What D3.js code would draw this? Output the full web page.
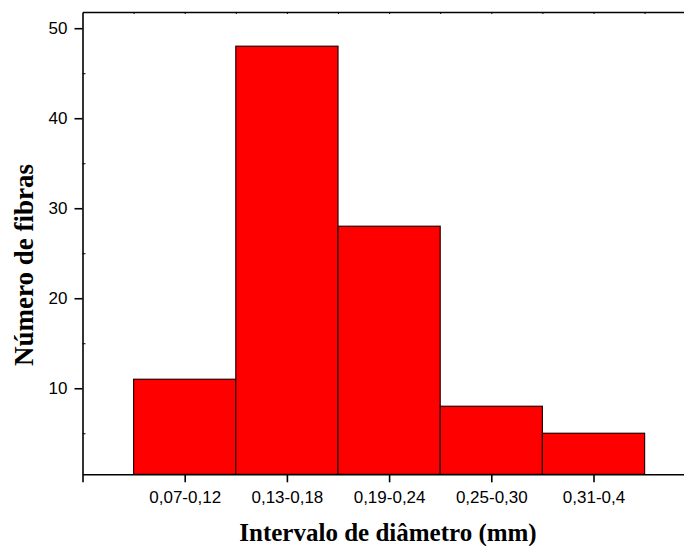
<!DOCTYPE html>
<html>
<head>
<meta charset="utf-8">
<script src="https://cdn.jsdelivr.net/npm/d3@7"></script>
<style>
  html, body { margin: 0; padding: 0; background: #fff; }
  svg { display: block; }
</style>
</head>
<body>
<svg id="chart" width="684" height="546"></svg>
<script>
const categories = ["0,07-0,12", "0,13-0,18", "0,19-0,24", "0,25-0,30", "0,31-0,4"];
const counts = [11, 48, 28, 8, 5];
const yTicks = [10, 20, 30, 40, 50];
const yMinorTicks = [5, 15, 25, 35, 45];
const xTitle = "Intervalo de diâmetro (mm)";
const yTitle = "Número de fibras";

(function () {
const svg = d3.select("#chart");
const mLeft = 82.5, mTop = 12, mBottom = 474.3;
const unit = 102.2;
const mRight = mLeft + unit * 6.5;

const x = d3.scaleLinear().domain([0, 6.5]).range([mLeft, mRight]);
const y = d3.scaleLinear().domain([0.44, 51.8]).range([mBottom, mTop]);

const data = categories.map((c, i) => ({ cat: c, pos: i + 1, value: counts[i] }));

// bars
svg.append("g").selectAll("rect").data(data).join("rect")
  .attr("x", d => x(d.pos - 0.5))
  .attr("y", d => y(d.value))
  .attr("width", d => x(d.pos + 0.5) - x(d.pos - 0.5))
  .attr("height", d => y(0.44) - y(d.value))
  .attr("fill", "#ff0000")
  .attr("stroke", "#2a0000")
  .attr("stroke-width", 1.2);

const font = "Liberation Sans, Arial, sans-serif";

// bottom axis
const xAxis = d3.axisBottom(x)
  .tickValues([0, 1, 2, 3, 4, 5, 6])
  .tickFormat(d => (d >= 1 && d <= 5) ? categories[d - 1] : "")
  .tickSize(8).tickPadding(9).tickSizeOuter(0);
const gx = svg.append("g").attr("transform", `translate(0,${mBottom})`).call(xAxis);
gx.select(".domain").attr("stroke", "#000").attr("stroke-width", 1.6);
gx.selectAll(".tick line").attr("stroke", "#000").attr("stroke-width", 1.6);
gx.selectAll(".tick text").attr("font-family", font).attr("font-size", 17).attr("fill", "#000");

// top axis (minor inward ticks)
const topTicks = d3.range(1, 13).map(i => i * 0.5);
const xTop = d3.axisTop(x).tickValues(topTicks).tickFormat("").tickSize(-2).tickSizeOuter(0);
const gt = svg.append("g").attr("transform", `translate(0,${mTop})`).call(xTop);
gt.select(".domain").attr("stroke", "#000").attr("stroke-width", 1.6);
gt.selectAll(".tick line").attr("stroke", "#000").attr("stroke-width", 1);

// left axis
const yAxis = d3.axisLeft(y).tickValues(yTicks).tickFormat(d3.format("d"))
  .tickSize(8).tickPadding(7).tickSizeOuter(0);
const gy = svg.append("g").attr("transform", `translate(${mLeft},0)`).call(yAxis);
gy.select(".domain").attr("stroke", "#000").attr("stroke-width", 1.6);
gy.selectAll(".tick line").attr("stroke", "#000").attr("stroke-width", 1.6);
gy.selectAll(".tick text").attr("font-family", font).attr("font-size", 17).attr("fill", "#000");

const yMinor = d3.axisRight(y).tickValues(yMinorTicks).tickFormat("").tickSize(3).tickSizeOuter(0);
const gym = svg.append("g").attr("transform", `translate(${mLeft},0)`).call(yMinor);
gym.select(".domain").remove();
gym.selectAll(".tick line").attr("stroke", "#000").attr("stroke-width", 1);

// titles
svg.append("text")
  .attr("x", 388).attr("y", 541)
  .attr("text-anchor", "middle")
  .attr("font-family", "Liberation Serif, Times New Roman, serif")
  .attr("font-weight", "bold").attr("font-size", 25)
  .text(xTitle);

svg.append("text")
  .attr("transform", "translate(33,265) rotate(-90)")
  .attr("text-anchor", "middle")
  .attr("font-family", "Liberation Serif, Times New Roman, serif")
  .attr("font-weight", "bold").attr("font-size", 27)
  .text(yTitle);
})();
</script>
</body>
</html>
